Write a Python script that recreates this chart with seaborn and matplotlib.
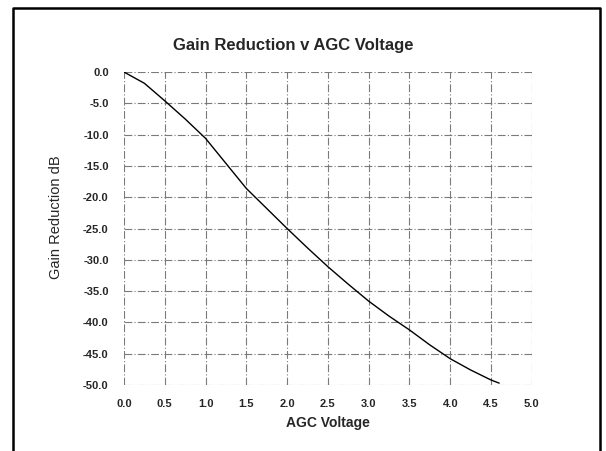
import matplotlib
matplotlib.use("Agg")
import matplotlib.pyplot as plt
import seaborn as sns
import pandas as pd
from matplotlib.lines import Line2D

# values
agc_v = [0.0, 0.25, 0.5, 0.75, 1.0, 1.25, 1.5, 1.75, 2.0, 2.25,
         2.5, 2.75, 3.0, 3.25, 3.5, 3.75, 4.0, 4.25, 4.5, 4.6]
gain_db = [0.0, -1.8, -4.6, -7.5, -10.6, -14.6, -18.6, -21.8, -25.0, -28.1,
           -31.1, -33.9, -36.6, -39.0, -41.2, -43.6, -45.8, -47.6, -49.2, -49.7]

x_ticks = [0.0, 0.5, 1.0, 1.5, 2.0, 2.5, 3.0, 3.5, 4.0, 4.5, 5.0]
y_ticks = [0.0, -5.0, -10.0, -15.0, -20.0, -25.0, -30.0, -35.0, -40.0, -45.0, -50.0]

df = pd.DataFrame({"AGC Voltage": agc_v, "Gain Reduction dB": gain_db})

sns.set_style("white")
plt.rcParams["font.family"] = ["Liberation Sans", "DejaVu Sans"]

fig = plt.figure(figsize=(6.06, 4.51), dpi=100)
ax = fig.add_axes([0.2046, 0.1463, 0.673, 0.694])

sns.lineplot(data=df, x="AGC Voltage", y="Gain Reduction dB", ax=ax,
             color="black", linewidth=1.0)

ax.set_xlim(0, 5)
ax.set_ylim(-50, 0)
ax.set_xticks(x_ticks)
ax.set_xticklabels([f"{v:.1f}" for v in x_ticks])
ax.set_yticks(y_ticks)
ax.set_yticklabels([f"{v:.1f}" for v in y_ticks])

for s in ax.spines.values():
    s.set_visible(False)
ax.grid(True, color="#7a7a7a", linewidth=0.8, linestyle=(0, (7, 2, 1, 2)))
ax.tick_params(axis="both", length=5, width=0.8, color="#888888",
               labelsize=8, direction="out")
ax.tick_params(axis="y", pad=6)
ax.tick_params(axis="x", pad=5)
for lab in ax.get_xticklabels() + ax.get_yticklabels():
    lab.set_fontweight("bold")

ax.set_xlabel("AGC Voltage", fontsize=10, fontweight="bold", va="center")
ax.xaxis.set_label_coords(0.5, -0.121)
ax.set_ylabel("Gain Reduction dB", fontsize=10.5, va="center")
ax.yaxis.set_label_coords(-0.167, 0.537)

fig.text(0.484, 0.900, "Gain Reduction v AGC Voltage", fontsize=12,
         fontweight="bold", ha="center", va="center")

# page frame around the chart (open at the bottom, as in the scan)
fig.add_artist(Line2D([13 / 606, 13 / 606, 600 / 606, 600 / 606],
                      [0.0, 1 - 8 / 451, 1 - 8 / 451, 0.0],
                      transform=fig.transFigure, color="black", linewidth=1.8))

fig.savefig("out.png", dpi=100)
